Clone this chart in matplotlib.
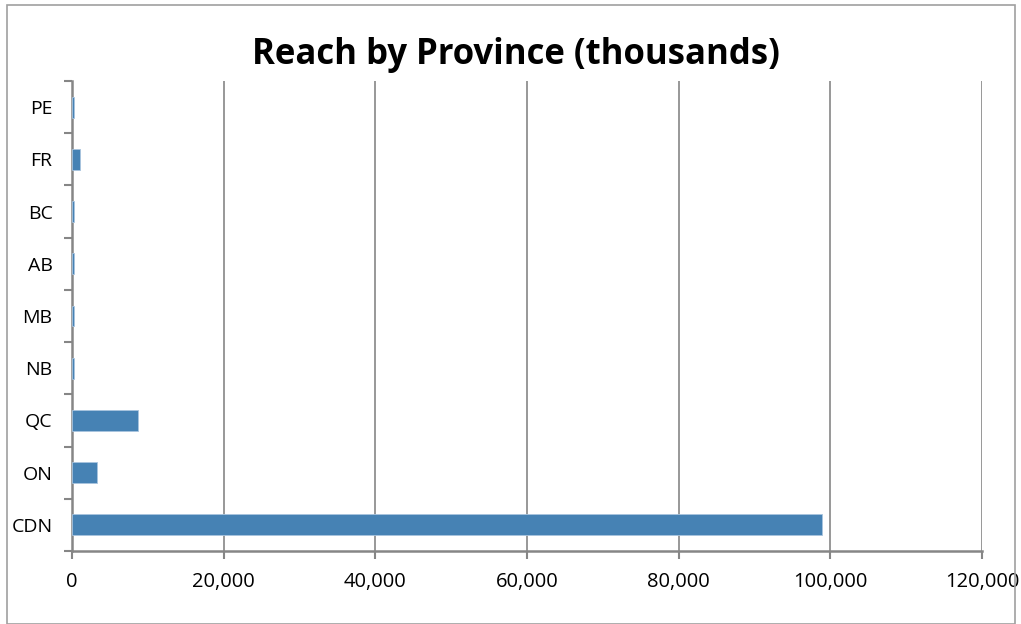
import matplotlib.pyplot as plt
import numpy as np
from matplotlib.patches import Rectangle
from matplotlib.ticker import FuncFormatter

plt.rcParams['font.family'] = ['Open Sans', 'DejaVu Sans']

provinces = ['CDN', 'ON', 'QC', 'NB', 'MB', 'AB', 'BC', 'FR', 'PE']
reach = [98900, 3300, 8700, 300, 200, 200, 300, 1000, 200]

BAR = '#4682b4'
GRID = '#868686'

fig = plt.figure(figsize=(10.21, 6.24), dpi=100)
ax = fig.add_axes([72 / 1021, 1 - 551 / 624, (982 - 72) / 1021, (551 - 81) / 624])

y = np.arange(len(provinces))
ax.barh(y, reach, height=0.4, color=BAR, edgecolor='#a9c4de', linewidth=0.6, zorder=3)

ax.set_xlim(0, 120000)
ax.set_ylim(-0.5, len(provinces) - 0.5)
ax.set_xticks(np.arange(0, 120001, 20000))
ax.xaxis.set_major_formatter(FuncFormatter(lambda v, p: f'{int(v):,}'))
ax.set_yticks(y)
ax.set_yticklabels(provinces)
ax.set_yticks(np.arange(-0.5, len(provinces), 1), minor=True)

ax.grid(axis='x', color=GRID, linewidth=1.2, zorder=0)
ax.tick_params(axis='y', which='major', length=0, pad=14, labelsize=14)
ax.tick_params(axis='y', which='minor', length=6, width=1.5, color=GRID)
ax.tick_params(axis='x', length=6, width=1.5, color=GRID, pad=9, labelsize=14.5)

for s in ['top', 'right']:
    ax.spines[s].set_visible(False)
for s in ['left', 'bottom']:
    ax.spines[s].set_color(GRID)
    ax.spines[s].set_linewidth(1.8)

fig.suptitle('Reach by Province (thousands)', x=516 / 1021, y=1 - 55 / 624,
             va='center', fontsize=25, fontweight='bold')

fig.patches.append(Rectangle((7 / 1021, 0), 1008 / 1021, 1 - 5 / 624,
                             transform=fig.transFigure, fill=False,
                             edgecolor='#a0a0a0', linewidth=1.2))

plt.savefig('out.png', dpi=100)
plt.close(fig)
